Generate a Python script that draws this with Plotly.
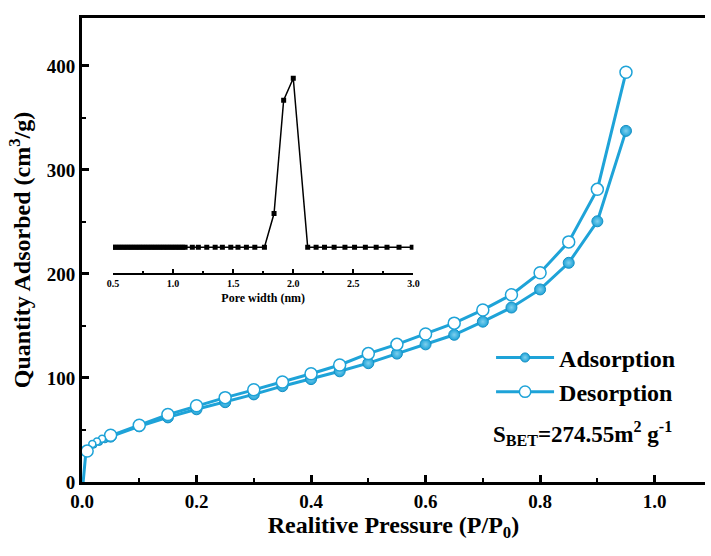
import plotly.graph_objects as go

# Main isotherm data
ads_x = [0.002, 0.004, 0.006, 0.01, 0.02, 0.03, 0.04, 0.05, 0.10, 0.15, 0.20, 0.25, 0.30, 0.35, 0.40,
         0.45, 0.50, 0.55, 0.60, 0.65, 0.70, 0.75, 0.80, 0.85, 0.90, 0.95]
ads_y = [0, 16, 24, 29, 35.8, 38.5, 41, 43.6, 53.5, 62.1, 69.9, 76.7, 84.2, 92.1, 98.9,
         106.4, 114.2, 123.4, 132.3, 141.5, 154.1, 167.7, 185.1, 210.7, 250.6, 337.5]
des_x = [0.95, 0.90, 0.85, 0.80, 0.75, 0.70, 0.65, 0.60, 0.55, 0.50, 0.45, 0.40, 0.35,
         0.30, 0.25, 0.20, 0.15, 0.10, 0.05, 0.035, 0.026, 0.018, 0.009]
des_y = [393.8, 281.3, 230.8, 201.2, 180, 165.4, 152.7, 142.2, 132.3, 123.4, 112.5, 104, 96.1,
         88.6, 81.1, 73.3, 64.8, 54.6, 45, 41.5, 39, 36.5, 29.7]

# Inset pore size distribution
pore_x = [0.50, 0.52, 0.54, 0.56, 0.58, 0.60, 0.62, 0.64, 0.66, 0.68, 0.70, 0.72, 0.74, 0.76,
          0.78, 0.80, 0.82, 0.84, 0.86, 0.88, 0.90, 0.92, 0.94, 0.96, 0.98, 1.00, 1.02, 1.04,
          1.06, 1.08, 1.10, 1.16, 1.21, 1.28, 1.35, 1.41, 1.48, 1.54, 1.61, 1.68, 1.76, 1.84,
          1.92, 2.00, 2.12, 2.19, 2.26, 2.34, 2.43, 2.51, 2.60, 2.69, 2.78, 2.88, 2.99]
pore_y = [0] * 41 + [0.20, 0.87, 1.00] + [0] * 11

BLUE = "#1ea3d8"
FONT = "Liberation Serif"

ads_sizes = [0 if p < 0.008 else (7 if p < 0.045 else 11) for p in ads_x]
des_sizes = [7 if 0.012 < p < 0.045 else 12 for p in des_x]

fig = go.Figure()
fig.add_trace(go.Scatter(
    x=ads_x, y=ads_y, mode="lines+markers", name="Adsorption",
    line=dict(color=BLUE, width=3),
    marker=dict(symbol="circle", size=ads_sizes, color=BLUE, opacity=1,
                gradient=dict(type="radial", color="#7fd0ee"),
                line=dict(color="#1590c4", width=1)),
))
fig.add_trace(go.Scatter(
    x=des_x, y=des_y, mode="lines+markers", name="Desorption",
    line=dict(color=BLUE, width=3),
    marker=dict(symbol="circle", size=des_sizes, color="#ffffff", opacity=1,
                line=dict(color=BLUE, width=1.5)),
))
fig.add_trace(go.Scatter(
    x=pore_x, y=pore_y, mode="lines+markers", xaxis="x2", yaxis="y2", showlegend=False,
    line=dict(color="black", width=1.5),
    marker=dict(symbol="square", size=5, color="black", opacity=1),
))

fig.update_layout(
    width=711, height=556,
    margin=dict(l=82, r=0, t=18, b=74),
    paper_bgcolor="white", plot_bgcolor="white",
    font=dict(family=FONT, color="black"),
    xaxis=dict(
        range=[0, 1.088], dtick=0.2, tick0=0, tickformat=".1f",
        showline=True, linewidth=3, linecolor="black", mirror=True,
        ticks="inside", ticklen=7, tickwidth=3, tickcolor="black",
        minor=dict(dtick=0.1, ticks="inside", ticklen=4, tickwidth=2, tickcolor="black"),
        showgrid=False, zeroline=False,
        tickfont=dict(size=19, family=FONT, weight="bold"),
        title=dict(text="Realitive Pressure (P/P<sub>0</sub>)", standoff=4,
                   font=dict(size=24, family=FONT, weight="bold")),
    ),
    yaxis=dict(
        range=[0, 446], dtick=100, tick0=0,
        showline=True, linewidth=3, linecolor="black", mirror=False,
        ticks="inside", ticklen=7, tickwidth=3, tickcolor="black",
        minor=dict(dtick=50, ticks="inside", ticklen=4, tickwidth=2, tickcolor="black"),
        showgrid=False, zeroline=False,
        tickfont=dict(size=19, family=FONT, weight="bold"),
        title=dict(text="Quantity Adsorbed (cm<sup>3</sup>/g)", standoff=10,
                   font=dict(size=24, family=FONT, weight="bold")),
    ),
    xaxis2=dict(
        domain=[0.0498, 0.532], anchor="y2", range=[0.5, 3.0], dtick=0.5, tick0=0.5,
        tickformat=".1f",
        showline=True, linewidth=2, linecolor="black",
        ticks="inside", ticklen=4, tickwidth=1.5, tickcolor="black",
        minor=dict(dtick=0.25, ticks="inside", ticklen=2, tickwidth=1.5, tickcolor="black"),
        showgrid=False, zeroline=False,
        tickfont=dict(size=10, family=FONT, weight="bold"),
        title=dict(text="Pore width (nm)", standoff=6,
                   font=dict(size=12, family=FONT, weight="bold")),
    ),
    yaxis2=dict(
        domain=[0.4504, 0.888], anchor="x2", range=[-0.152, 1.049],
        visible=False,
    ),
    legend=dict(
        x=0.6566, y=0.316, xanchor="left", yanchor="top",
        bgcolor="rgba(0,0,0,0)", itemwidth=58,
        font=dict(size=24, family=FONT, weight="bold"),
        tracegroupgap=0,
    ),
    annotations=[dict(
        text="S<sub>BET</sub>=274.55m<sup>2</sup> g<sup>-1</sup>",
        xref="paper", yref="paper", x=(495 - 82) / 629, y=(482 - 433) / 464,
        xanchor="left", yanchor="middle", showarrow=False,
        font=dict(size=23, family=FONT, color="black", weight="bold"),
    )],
)

fig.write_html("out.html")
